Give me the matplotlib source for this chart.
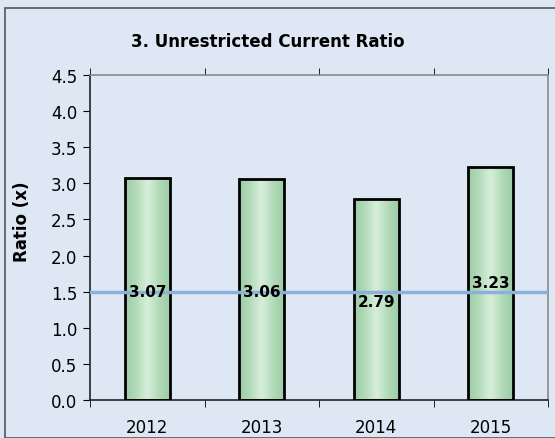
import numpy as np
import matplotlib.pyplot as plt
from matplotlib.patches import Rectangle
from matplotlib.colors import LinearSegmentedColormap

# ---------------- data ----------------
years = ["2012", "2013", "2014", "2015"]
ratios = [3.07, 3.06, 2.79, 3.23]
benchmark = 1.5
label_offsets = [0.0, 0.0, -0.13, 0.13]  # label nudges in data units

BG = "#dde8f4"

fig = plt.figure(figsize=(5.55, 4.39), dpi=100, facecolor=BG)
fig.patches.append(Rectangle((5 / 555, 0), 1, 1 - 9 / 439, transform=fig.transFigure,
                             fill=False, edgecolor="#555555", linewidth=1.2))

ax = fig.add_axes([90 / 555, 1 - 401 / 439, 458 / 555, 325 / 439])
ax.set_facecolor(BG)

x = np.arange(len(years))
bars = ax.bar(x, ratios, width=0.39, facecolor="none", edgecolor="black", linewidth=2, zorder=3)

# green gradient inside each bar: darker at the edges, light in the middle
grad = np.abs(np.linspace(-1, 1, 64))
grad = np.vstack([grad, grad])
cmap = LinearSegmentedColormap.from_list("g", ["#d6eed9", "#b3dbb9", "#9ccca6"])
for b in bars:
    im = ax.imshow(grad, cmap=cmap, aspect="auto", zorder=2,
                   extent=(b.get_x(), b.get_x() + b.get_width(), 0, b.get_height()))
    im.set_clip_path(b)

ax.axhline(benchmark, color="#8cb0dc", linewidth=2.5, zorder=4)

for xi, v, off in zip(x, ratios, label_offsets):
    ax.text(xi, benchmark + off, f"{v:.2f}", ha="center", va="center",
            fontsize=11, fontweight="bold", zorder=5)

ax.set_xlim(-0.5, len(years) - 0.5)
ax.set_ylim(0, 4.5)
ax.set_yticks(np.arange(0, 4.51, 0.5))
ax.set_yticklabels([f"{t:.1f}" for t in np.arange(0, 4.51, 0.5)], fontsize=12)
ax.set_xticks(x)
ax.set_xticklabels(years, fontsize=12)
ax.tick_params(axis="x", length=0, pad=13)
ax.set_xticks(np.arange(-0.5, len(years), 1), minor=True)
ax.tick_params(axis="x", which="minor", direction="out", length=5, top=True)
ax.tick_params(axis="y", direction="out", length=5, pad=4)

for s in ["left", "bottom"]:
    ax.spines[s].set_color("#222222")
for s in ["top", "right"]:
    ax.spines[s].set_color("#888888")
for s in ax.spines.values():
    s.set_linewidth(1.2)

fig.text(22 / 555, 1 - 222 / 439, "Ratio (x)", rotation=90, ha="center", va="center",
         fontsize=12, fontweight="bold")
fig.text(268 / 555, 1 - 42 / 439, "3. Unrestricted Current Ratio", ha="center", va="center",
         fontsize=12, fontweight="bold")

fig.savefig("out.png", dpi=100, facecolor=BG)
